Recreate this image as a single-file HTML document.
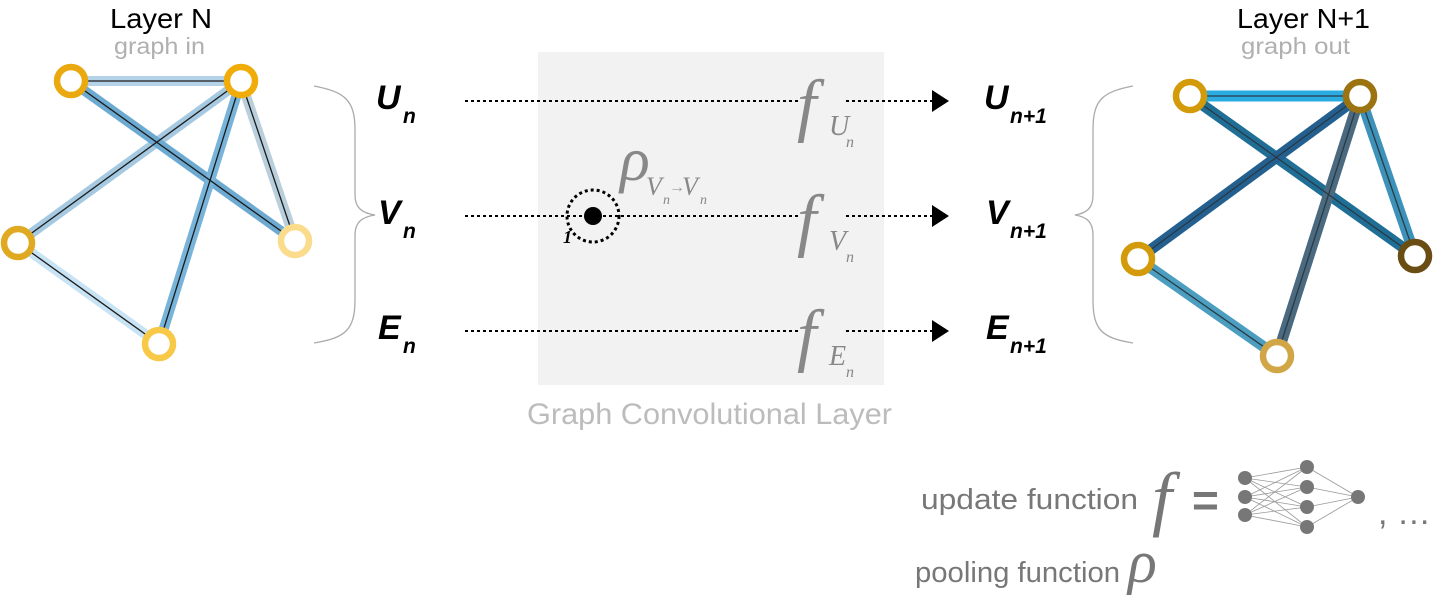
<!DOCTYPE html>
<html><head><meta charset="utf-8"><style>
html,body{margin:0;padding:0;background:#fff;width:1440px;height:601px;overflow:hidden}
svg{display:block}
.sans{font-family:"Liberation Sans",sans-serif}
.serif{font-family:"Liberation Serif",serif;font-style:italic}
.lab{font-family:"Liberation Sans",sans-serif;font-weight:bold;font-style:italic;fill:#000}
</style></head><body>
<svg width="1440" height="601" viewBox="0 0 1440 601" xmlns="http://www.w3.org/2000/svg">
<rect x="538" y="52" width="346" height="333" fill="#f2f2f2"/>
<text x="527" y="424" textLength="365" lengthAdjust="spacingAndGlyphs" class="sans" font-size="30" fill="#bcbcbc">Graph Convolutional Layer</text>

<text x="110" y="28" textLength="102" lengthAdjust="spacingAndGlyphs" class="sans" font-size="28" fill="#000">Layer N</text>
<text x="114" y="54" textLength="91" lengthAdjust="spacingAndGlyphs" class="sans" font-size="23" fill="#b0b0b0">graph in</text>
<text x="1237" y="28" textLength="133" lengthAdjust="spacingAndGlyphs" class="sans" font-size="28" fill="#000">Layer N+1</text>
<text x="1241" y="54" textLength="109" lengthAdjust="spacingAndGlyphs" class="sans" font-size="23" fill="#b0b0b0">graph out</text>

<g>
<line x1="71" y1="81" x2="241" y2="81" stroke="#b4d3e8" stroke-width="10"/>
<line x1="18" y1="243" x2="159" y2="344" stroke="#c8e4f4" stroke-width="10"/>
<line x1="241" y1="81" x2="295" y2="241" stroke="#b9cfdc" stroke-width="10"/>
<line x1="241" y1="81" x2="18" y2="243" stroke="#a6c9e2" stroke-width="10"/>
<line x1="71" y1="81" x2="295" y2="241" stroke="#6daad2" stroke-width="10"/>
<line x1="241" y1="81" x2="159" y2="344" stroke="#78b4da" stroke-width="10"/>
<g stroke="#1a1a1a" stroke-width="1.3">
<line x1="71" y1="81" x2="241" y2="81"/><line x1="18" y1="243" x2="159" y2="344"/>
<line x1="241" y1="81" x2="295" y2="241"/><line x1="241" y1="81" x2="18" y2="243"/>
<line x1="71" y1="81" x2="295" y2="241"/><line x1="241" y1="81" x2="159" y2="344"/>
</g>
</g>
<g fill="#fff" stroke-width="6.5">
<circle cx="71" cy="81" r="14" stroke="#e9a90f"/>
<circle cx="241" cy="81" r="14" stroke="#f0ad0a"/>
<circle cx="295" cy="241" r="14" stroke="#fbdb8c"/>
<circle cx="18" cy="243" r="14" stroke="#e0a922"/>
<circle cx="159" cy="344" r="14" stroke="#f8c847"/>
</g>
<path d="M314 86 C 345 92, 355 100, 355 130 L 355 195 C 355 208, 362 213, 375 215 C 362 217, 355 222, 355 235 L 355 300 C 355 330, 345 338, 314 343" fill="none" stroke="#aaa" stroke-width="1.3"/>

<g>
<line x1="1190" y1="96" x2="1360" y2="96" stroke="#2aace2" stroke-width="11"/>
<line x1="1138" y1="259" x2="1277" y2="356" stroke="#4b9ebf" stroke-width="11"/>
<line x1="1360" y1="96" x2="1415" y2="256" stroke="#3c92b8" stroke-width="11"/>
<line x1="1190" y1="96" x2="1415" y2="256" stroke="#1e6e95" stroke-width="11"/>
<line x1="1360" y1="96" x2="1138" y2="259" stroke="#23608f" stroke-width="11"/>
<line x1="1360" y1="96" x2="1277" y2="356" stroke="#4b6a80" stroke-width="11"/>
<g stroke="#2a3a44" stroke-width="1.3">
<line x1="1190" y1="96" x2="1360" y2="96"/><line x1="1138" y1="259" x2="1277" y2="356"/>
<line x1="1360" y1="96" x2="1415" y2="256"/><line x1="1190" y1="96" x2="1415" y2="256"/>
<line x1="1360" y1="96" x2="1138" y2="259"/><line x1="1360" y1="96" x2="1277" y2="356"/>
</g>
</g>
<g fill="#fff" stroke-width="6.5">
<circle cx="1190" cy="96" r="14" stroke="#d39a0a"/>
<circle cx="1360" cy="96" r="14" stroke="#9b7411"/>
<circle cx="1415" cy="256" r="14" stroke="#6a4d12"/>
<circle cx="1138" cy="259" r="14" stroke="#d39a0a"/>
<circle cx="1277" cy="356" r="14" stroke="#d1a647"/>
</g>
<path d="M1133 86 C 1102 92, 1093 100, 1093 130 L 1093 195 C 1093 208, 1087 213, 1075 215 C 1087 217, 1093 222, 1093 235 L 1093 300 C 1093 330, 1102 338, 1133 343" fill="none" stroke="#aaa" stroke-width="1.3"/>

<text x="376" y="109" class="lab" font-size="34">U</text><text x="403" y="123" class="lab" font-size="21">n</text>
<text x="378" y="224" class="lab" font-size="34">V</text><text x="403" y="238" class="lab" font-size="21">n</text>
<text x="378" y="339" class="lab" font-size="34">E</text><text x="403" y="353" class="lab" font-size="21">n</text>
<text x="984" y="109" class="lab" font-size="34">U</text><text x="1010" y="123" class="lab" font-size="21">n+1</text>
<text x="986" y="224" class="lab" font-size="34">V</text><text x="1010" y="238" class="lab" font-size="21">n+1</text>
<text x="986" y="339" class="lab" font-size="34">E</text><text x="1010" y="353" class="lab" font-size="21">n+1</text>

<g stroke="#000" stroke-width="2" stroke-dasharray="3,3">
<line x1="465" y1="101" x2="800" y2="101"/><line x1="846" y1="101" x2="932" y2="101"/>
<line x1="465" y1="216" x2="800" y2="216"/><line x1="846" y1="216" x2="932" y2="216"/>
<line x1="465" y1="331" x2="800" y2="331"/><line x1="846" y1="331" x2="932" y2="331"/>
</g>
<g fill="#000">
<polygon points="932,90 949,101 932,112"/>
<polygon points="932,205 949,216 932,227"/>
<polygon points="932,320 949,331 932,342"/>
</g>

<g fill="#888">
<text x="797" y="128" font-size="70" class="serif">f</text><text x="829" y="135" font-size="28" class="serif">U</text><text x="846" y="147" font-size="16" class="serif">n</text>
<text x="797" y="243" font-size="70" class="serif">f</text><text x="829" y="250" font-size="28" class="serif">V</text><text x="846" y="262" font-size="16" class="serif">n</text>
<text x="797" y="358" font-size="70" class="serif">f</text><text x="829" y="365" font-size="28" class="serif">E</text><text x="846" y="377" font-size="16" class="serif">n</text>
</g>
<text x="620" y="180" font-size="62" class="serif" fill="#888">ρ</text>
<text x="646" y="195" font-size="26" class="serif" fill="#888">V</text><text x="663" y="204" font-size="14" class="serif" fill="#888">n</text>
<text x="669" y="192" font-size="16" class="sans" fill="#999">→</text>
<text x="682" y="195" font-size="26" class="serif" fill="#888">V</text><text x="700" y="204" font-size="14" class="serif" fill="#888">n</text>
<circle cx="593" cy="216" r="26" fill="none" stroke="#000" stroke-width="3" stroke-dasharray="3,3"/>
<circle cx="593" cy="216" r="9" fill="#000"/>
<text x="563" y="243" font-size="18" class="serif" font-weight="bold" fill="#000">1</text>

<text x="921" y="509" textLength="217" lengthAdjust="spacingAndGlyphs" class="sans" font-size="29" fill="#777">update function</text>
<text x="1152" y="522" font-size="72" class="serif" fill="#777">f</text>
<text x="1192" y="516" class="sans" font-size="46" font-weight="bold" fill="#777">=</text>
<g stroke="#999" stroke-width="0.8">
<line x1="1245" y1="478" x2="1307" y2="467"/><line x1="1245" y1="478" x2="1307" y2="487"/><line x1="1245" y1="478" x2="1307" y2="507"/><line x1="1245" y1="478" x2="1307" y2="527"/>
<line x1="1245" y1="497" x2="1307" y2="467"/><line x1="1245" y1="497" x2="1307" y2="487"/><line x1="1245" y1="497" x2="1307" y2="507"/><line x1="1245" y1="497" x2="1307" y2="527"/>
<line x1="1245" y1="515" x2="1307" y2="467"/><line x1="1245" y1="515" x2="1307" y2="487"/><line x1="1245" y1="515" x2="1307" y2="507"/><line x1="1245" y1="515" x2="1307" y2="527"/>
<line x1="1307" y1="467" x2="1358" y2="497"/><line x1="1307" y1="487" x2="1358" y2="497"/><line x1="1307" y1="507" x2="1358" y2="497"/><line x1="1307" y1="527" x2="1358" y2="497"/>
</g>
<g fill="#777">
<circle cx="1245" cy="478" r="7"/><circle cx="1245" cy="497" r="7"/><circle cx="1245" cy="515" r="7"/>
<circle cx="1307" cy="467" r="7"/><circle cx="1307" cy="487" r="7"/><circle cx="1307" cy="507" r="7"/><circle cx="1307" cy="527" r="7"/>
<circle cx="1358" cy="497" r="7"/>
</g>
<text x="1378" y="524" class="sans" font-size="34" fill="#777">, …</text>
<text x="915" y="582" textLength="205" lengthAdjust="spacingAndGlyphs" class="sans" font-size="29" fill="#777">pooling function</text>
<text x="1128" y="582" font-size="60" class="serif" fill="#777">ρ</text>
</svg>
</body></html>
